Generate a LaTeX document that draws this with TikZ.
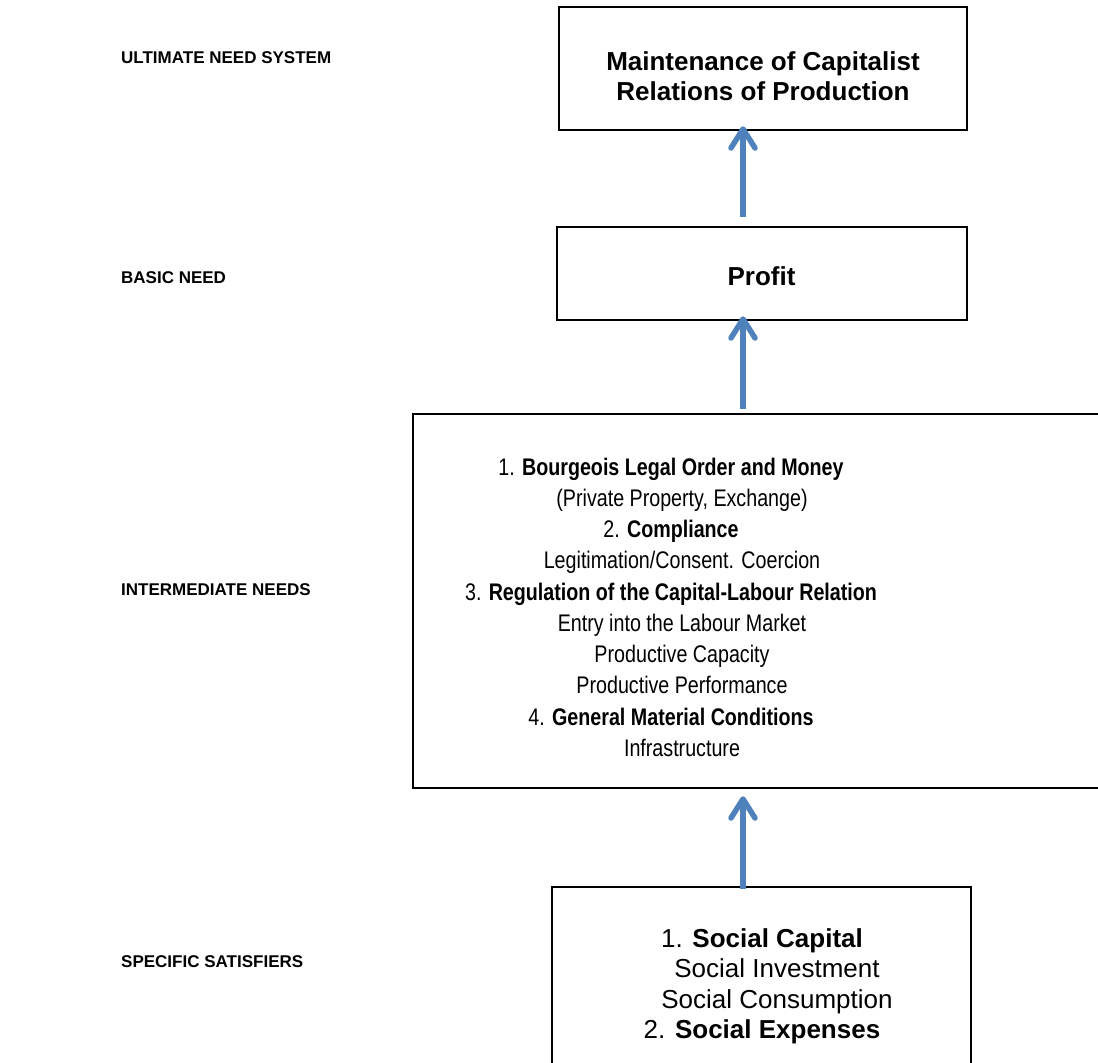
\documentclass[tikz,border=0pt]{standalone}
\usepackage{fontspec}
\setmainfont{Liberation Sans}
\newfontfamily\narrowfont{Liberation Sans}[FakeStretch=0.82]
\usetikzlibrary{arrows.meta,calc}
\definecolor{arrowblue}{RGB}{79,129,189}
\begin{document}
\begin{tikzpicture}[x=1pt,y=-1pt,
  box/.style={draw=black,line width=2.5pt,inner sep=0pt},
  lvl/.style={anchor=base west,inner sep=0pt,font=\fontsize{17}{20}\selectfont\bfseries},
  txt/.style={inner sep=0pt,align=center,anchor=north},
  uparrow/.style={draw=arrowblue,line width=5.5pt,-{Straight Barb[length=19pt,width=24pt,round]}}]
\clip (0,0) rectangle (1098,1063);
\fill[white] (0,0) rectangle (1098,1063);
% boxes
\node[box,minimum width=408pt,minimum height=123pt] (b1) at (763,68.5) {};
\node[box,minimum width=410pt,minimum height=93pt] (b2) at (762,273.5) {};
\node[box,minimum width=707pt,minimum height=374pt] (b3) at (766.5,601) {};
\node[box,minimum width=419pt,minimum height=203pt] (b4) at (761.5,988.5) {};
% texts
\node[txt,font=\fontsize{26}{30}\selectfont\bfseries] (t1) at (763,51.4)
  {Maintenance of Capitalist\\Relations of Production};
\node[inner sep=0pt,anchor=base,font=\fontsize{26}{30}\selectfont\bfseries] (t2) at (761.5,285) {Profit};
\node[txt,font=\narrowfont\fontsize{24}{31.2}\selectfont] (t3) at (671,457.8)
  {1. \textbf{Bourgeois Legal Order and Money}\\
   \hspace*{22pt}(Private Property, Exchange)\\
   2. \textbf{Compliance}\\
   \hspace*{22pt}Legitimation/Consent. Coercion\\
   3. \textbf{Regulation of the Capital-Labour Relation}\\
   \hspace*{22pt}Entry into the Labour Market\\
   \hspace*{22pt}Productive Capacity\\
   \hspace*{22pt}Productive Performance\\
   4. \textbf{General Material Conditions}\\
   \hspace*{22pt}Infrastructure};
\node[txt,font=\fontsize{26}{30.3}\selectfont] (t4) at (762,928.4)
  {1. \textbf{Social Capital}\\
   \hspace*{30pt}Social Investment\\
   \hspace*{30pt}Social Consumption\\
   2. \textbf{Social Expenses}};
% level labels
\node[lvl] (l1) at (121,63) {ULTIMATE NEED SYSTEM};
\node[lvl] (l2) at (121,283) {BASIC NEED};
\node[lvl] (l3) at (121,595) {INTERMEDIATE NEEDS};
\node[lvl] (l4) at (121,967) {SPECIFIC SATISFIERS};
% arrows
\coordinate (ax) at (743,0);
\draw[uparrow] ($(b2.north -| ax)+(0,-9)$) -- ($(b1.south -| ax)+(0,-5)$);
\draw[uparrow] ($(b3.north -| ax)+(0,-4)$) -- ($(b2.south -| ax)+(0,-5)$);
\draw[uparrow] ($(b4.north -| ax)+(0,3)$) -- ($(b3.south -| ax)+(0,7)$);
\end{tikzpicture}
\end{document}
